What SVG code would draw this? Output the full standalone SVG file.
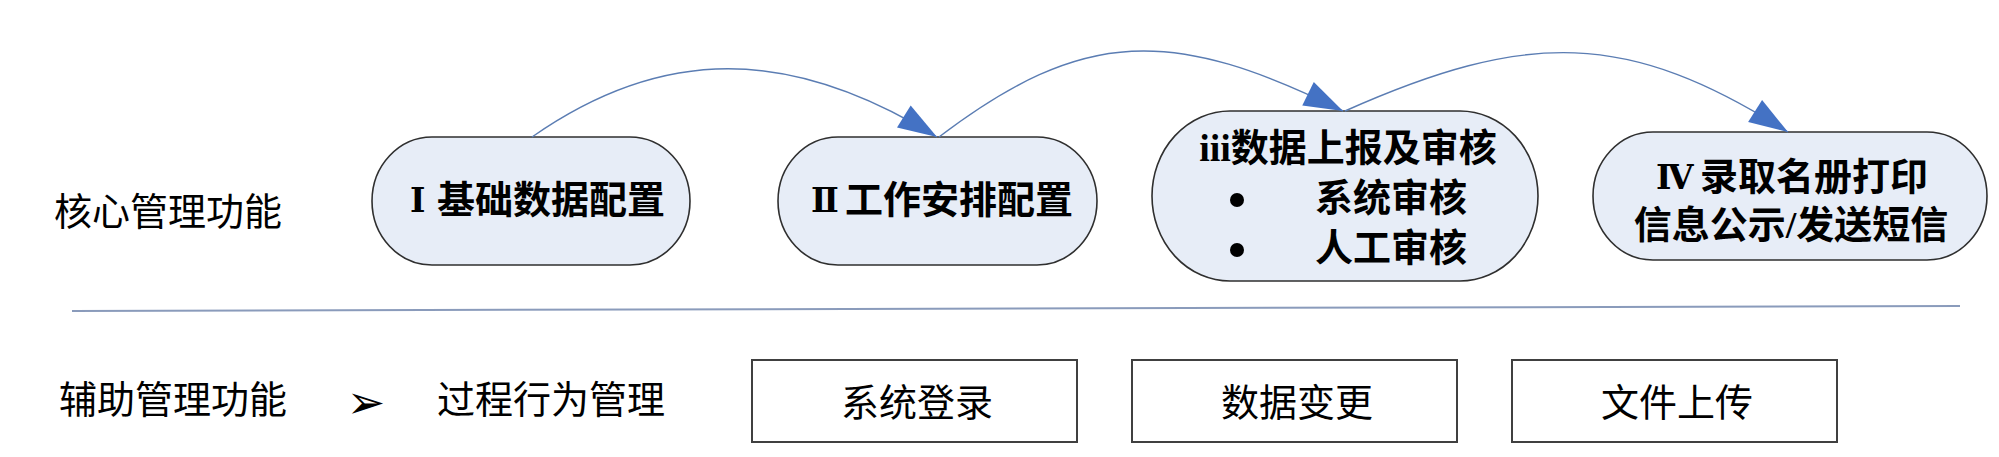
<svg xmlns="http://www.w3.org/2000/svg" width="1999" height="457" viewBox="0 0 1999 457">
  <style>
    .node { fill: #E7EDF7; stroke: #2F2F2F; stroke-width: 1.6; }
    .box { fill: #FFFFFF; stroke: #404040; stroke-width: 2; }
    .t { font-family: 'Liberation Serif', 'Noto Sans CJK SC', serif; font-size: 38px; fill: #000; text-anchor: middle; dominant-baseline: central; }
    .s { text-anchor: start; }
    .b { font-weight: bold; }
    .rn { font-family: 'DejaVu Serif', 'Liberation Serif', serif; font-size: 33px; }
    .conn { fill: none; stroke: #5B7DB3; stroke-width: 1.4; }
    .divider { stroke: #8A9BBB; stroke-width: 2; }
  </style>
  <defs>
    <marker id="arrow" viewBox="-40 -14 41 28" refX="0" refY="0" markerWidth="41" markerHeight="28" markerUnits="userSpaceOnUse" orient="auto">
      <path d="M0,0 L-39,-13 L-39,13 Z" fill="#4472C4"/>
    </marker>
  </defs>
  <rect width="1999" height="457" fill="#FFFFFF"/>

  <g id="label-core">
    <text class="t" x="168" y="212">核心管理功能</text>
  </g>

  <g id="node-1">
    <rect class="node" x="372" y="137" width="318" height="128" rx="60" ry="64"/>
    <text class="t b s" x="410" y="200"><tspan class="rn">Ⅰ</tspan><tspan x="437">基础数据配置</tspan></text>
  </g>

  <g id="node-2">
    <rect class="node" x="778" y="137" width="319" height="128" rx="60" ry="64"/>
    <text class="t b s" x="811" y="200"><tspan class="rn">Ⅱ</tspan><tspan x="845">工作安排配置</tspan></text>
  </g>

  <g id="node-3">
    <rect class="node" x="1152" y="111" width="386" height="170" rx="78" ry="85"/>
    <text class="t b" x="1348" y="148">iii数据上报及审核</text>
    <circle cx="1237" cy="200" r="7" fill="#000"/>
    <text class="t b" x="1391" y="198">系统审核</text>
    <circle cx="1237" cy="250" r="7" fill="#000"/>
    <text class="t b" x="1391" y="248">人工审核</text>
  </g>

  <g id="node-4">
    <rect class="node" x="1593" y="132" width="394" height="128" rx="60" ry="64"/>
    <text class="t b s" x="1656" y="177"><tspan class="rn">Ⅳ</tspan><tspan x="1700">录取名册打印</tspan></text>
    <text class="t b" x="1791" y="225">信息公示/发送短信</text>
  </g>

  <g id="connectors">
    <path class="conn" d="M532,137 C662,46 790,46 937,137" marker-end="url(#arrow)"/>
    <path class="conn" d="M939,137 C1084,27 1173,27 1343,111" marker-end="url(#arrow)"/>
    <path class="conn" d="M1345,111 C1527,30 1628,30 1788,132" marker-end="url(#arrow)"/>
  </g>

  <g id="divider">
    <line class="divider" x1="72" y1="311" x2="1960" y2="306"/>
  </g>

  <g id="label-aux">
    <text class="t" x="173" y="400">辅助管理功能</text>
  </g>

  <g id="item-process">
    <text x="366" y="402" style="font-family: 'DejaVu Sans', sans-serif; font-size: 46px; text-anchor: middle; dominant-baseline: central;">➢</text>
    <text class="t" x="551" y="400">过程行为管理</text>
  </g>

  <g id="box-login">
    <rect class="box" x="752" y="360" width="325" height="82"/>
    <text class="t" x="917" y="403">系统登录</text>
  </g>

  <g id="box-change">
    <rect class="box" x="1132" y="360" width="325" height="82"/>
    <text class="t" x="1297" y="403">数据变更</text>
  </g>

  <g id="box-upload">
    <rect class="box" x="1512" y="360" width="325" height="82"/>
    <text class="t" x="1677" y="403">文件上传</text>
  </g>
</svg>
